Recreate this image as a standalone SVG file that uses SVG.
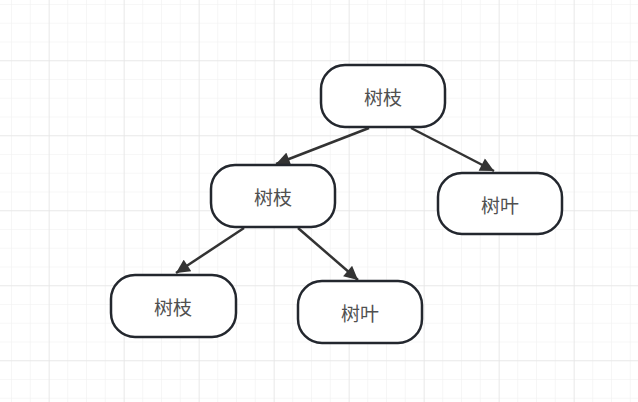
<svg xmlns="http://www.w3.org/2000/svg" width="638" height="402" viewBox="0 0 638 402">
<defs>
<pattern id="minor" x="11" y="4" width="18.75" height="18.75" patternUnits="userSpaceOnUse">
<path d="M0 0V18.75M0 0H18.75" fill="none" stroke="#f0f0f0" stroke-width="1.2"/>
</pattern>
<pattern id="major" x="48.75" y="60.25" width="75" height="75" patternUnits="userSpaceOnUse">
<path d="M0 0V75M0 0H75" fill="none" stroke="#e6e6e6" stroke-width="1.4"/>
</pattern>
<marker id="arr" viewBox="0 0 10 10" refX="10" refY="5" markerWidth="6" markerHeight="5.5" orient="auto" markerUnits="strokeWidth">
<path d="M0 0L10 5L0 10z" fill="#333"/>
</marker>
<style>
.node rect{fill:#fff;stroke:#23272e;stroke-width:2.5}
.node text{font-family:"Noto Sans CJK SC","Noto Sans",sans-serif;font-size:19px;fill:#505050;text-anchor:middle;dominant-baseline:central}
.edges line{stroke:#333;stroke-width:2.5;marker-end:url(#arr)}
</style>
</defs>
<rect width="638" height="402" fill="#fff"/>
<rect width="638" height="402" fill="url(#minor)"/>
<rect width="638" height="402" fill="url(#major)"/>
<g class="edges" id="connectors">
<line x1="369" y1="128" x2="276" y2="164"/>
<line x1="411" y1="128" x2="494" y2="171"/>
<line x1="244" y1="228" x2="176" y2="273"/>
<line x1="298" y1="228" x2="358" y2="280"/>
</g>
<g class="node" id="n-root"><rect x="321" y="65" width="124" height="62" rx="24"/><text x="383" y="96">树枝</text></g>
<g class="node" id="n-mid"><rect x="211" y="165" width="124" height="62" rx="24"/><text x="273" y="196">树枝</text></g>
<g class="node" id="n-leaf1"><rect x="438" y="173" width="124" height="61" rx="24"/><text x="500" y="204">树叶</text></g>
<g class="node" id="n-left"><rect x="111" y="275" width="125" height="62" rx="24"/><text x="173" y="306">树枝</text></g>
<g class="node" id="n-leaf2"><rect x="298" y="281" width="124" height="62" rx="24"/><text x="360" y="312">树叶</text></g>
</svg>
